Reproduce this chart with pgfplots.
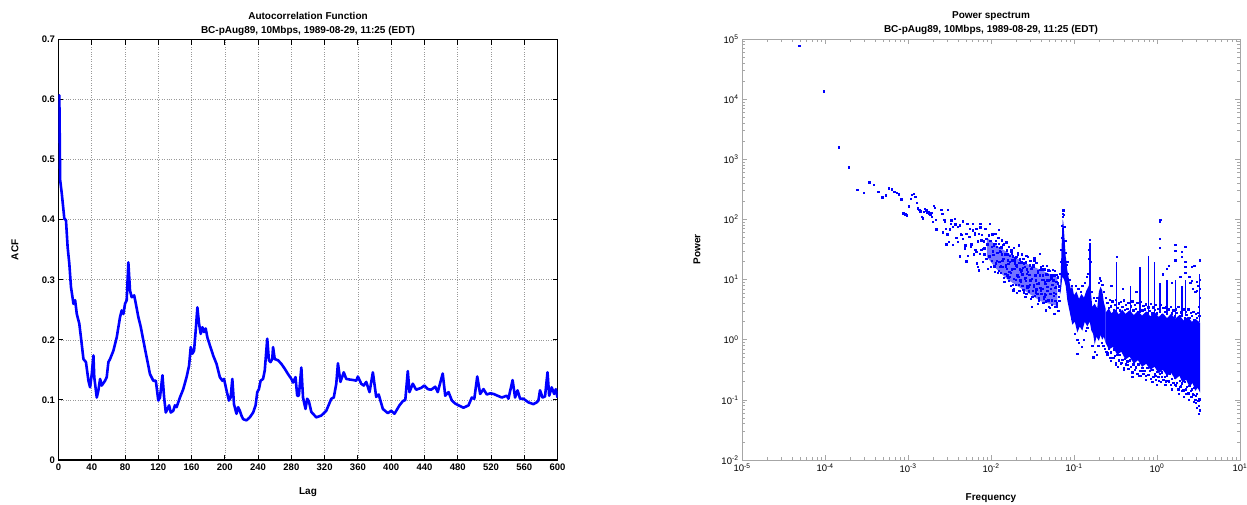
\documentclass[border=0pt]{standalone}
\usepackage{pgfplots}
\pgfplotsset{compat=1.18}
\usepackage{fontspec}
\setmainfont{Liberation Sans}
\pgfplotsset{
  lg/.style={/pgfplots/table/x expr={10^(\thisrow{lf})}, /pgfplots/table/y expr={10^(\thisrow{lp})}},
  dots/.style={only marks, mark=square*, mark size=0.68pt, color=blue, mark options={draw=none, fill=blue}, forget plot},
  spk/.style={draw=blue, line width=1.4pt, forget plot},
}
\begin{document}
\begin{tikzpicture}
% ---------------- Left: ACF ----------------
\begin{axis}[
  at={(58.5pt,44pt)}, anchor=south west, scale only axis,
  width=499pt, height=420.5pt,
  xmin=0, xmax=600, ymin=0, ymax=0.7,
  xtick={0,40,80,120,160,200,240,280,320,360,400,440,480,520,560,600},
  xticklabels={0,40,80,120,160,200,240,280,320,360,400,440,480,520,560,600},
  ytick={0,0.1,0.2,0.3,0.4,0.5,0.6,0.7},
  yticklabels={0,0.1,0.2,0.3,0.4,0.5,0.6,0.7},
  grid=major, major grid style={dotted, gray!80, line width=0.6pt},
  tick align=inside, major tick length=5pt,
  tick style={black, line width=0.9pt},
  axis line style={black, line width=1.1pt},
  ticklabel style={font=\bfseries\fontsize{9.5}{11}\selectfont},
  title={Autocorrelation Function\\BC-pAug89, 10Mbps, 1989-08-29, 11:25 (EDT)},
  title style={font=\bfseries\fontsize{10}{14}\selectfont, align=center, at={(0.5,1)}, anchor=south, yshift=-5.5pt},
  xlabel={Lag}, ylabel={ACF},
  xlabel style={font=\bfseries\fontsize{10}{12}\selectfont, at={(axis description cs:0.5,-0.0761)}, anchor=center},
  ylabel style={font=\bfseries\fontsize{10}{12}\selectfont, at={(axis description cs:-0.0872,0.5)}, anchor=center},
]
\addplot[color=blue, line width=2.6pt, line join=round] table {
x y
0 0.600
1 0.607
2 0.466
4 0.443
7 0.402
9 0.399
11 0.354
13 0.327
15 0.288
18 0.260
20 0.266
22 0.243
25 0.227
27 0.204
30 0.168
33 0.163
36 0.132
38 0.121
40 0.143
42 0.174
43 0.138
46 0.104
48 0.116
50 0.135
52 0.124
56 0.132
58 0.138
60 0.163
62 0.168
66 0.182
70 0.204
74 0.238
76 0.249
78 0.243
80 0.260
82 0.266
84 0.329
86 0.282
88 0.271
91 0.274
93 0.260
96 0.238
99 0.221
102 0.199
106 0.171
110 0.143
114 0.132
117 0.132
120 0.099
122 0.104
125 0.141
127 0.104
129 0.079
133 0.091
135 0.079
138 0.082
140 0.091
142 0.088
146 0.104
150 0.118
154 0.138
157 0.157
159 0.188
161 0.177
163 0.182
165 0.216
167 0.254
169 0.227
171 0.210
173 0.221
175 0.213
177 0.219
179 0.204
182 0.191
186 0.174
190 0.160
194 0.138
197 0.132
199 0.135
202 0.116
205 0.099
207 0.104
209 0.135
211 0.093
214 0.077
216 0.088
218 0.082
220 0.074
222 0.068
226 0.066
230 0.071
234 0.079
237 0.091
239 0.113
241 0.118
243 0.132
246 0.135
248 0.149
251 0.202
253 0.166
255 0.163
257 0.168
258 0.188
260 0.168
264 0.166
268 0.160
272 0.152
276 0.143
280 0.135
282 0.129
285 0.138
287 0.107
289 0.107
292 0.154
294 0.104
297 0.085
299 0.102
301 0.098
304 0.080
310 0.071
316 0.074
322 0.082
328 0.102
331 0.104
334 0.127
336 0.161
339 0.130
343 0.146
346 0.135
350 0.134
355 0.133
358 0.132
360 0.139
364 0.127
367 0.124
370 0.130
374 0.113
378 0.146
382 0.105
385 0.109
390 0.085
396 0.078
400 0.082
404 0.077
410 0.091
414 0.098
417 0.100
420 0.148
422 0.113
426 0.127
430 0.117
436 0.120
440 0.124
444 0.118
448 0.117
453 0.122
456 0.113
462 0.144
465 0.107
469 0.113
473 0.099
477 0.094
481 0.091
487 0.087
493 0.091
497 0.104
500 0.102
503.5 0.139
507 0.110
511 0.118
515 0.109
519 0.111
523 0.110
528 0.107
533 0.104
537 0.106
539 0.107
541 0.102
546 0.133
549 0.104
552 0.116
555 0.102
559 0.102
565 0.096
571 0.093
575 0.096
577 0.099
579 0.116
582 0.104
585 0.106
588 0.146
590 0.107
593 0.121
596 0.110
598 0.118
600 0.104
};
\end{axis}
% ---------------- Right: Power spectrum ----------------
\begin{axis}[
  at={(742pt,44pt)}, anchor=south west, scale only axis,
  width=498pt, height=421pt,
  xmode=log, ymode=log,
  xmin=1e-5, xmax=10, ymin=1e-2, ymax=1e5,
  xtick={1e-5,1e-4,1e-3,1e-2,1e-1,1,10},
  xticklabels={10\textsuperscript{-5},10\textsuperscript{-4},10\textsuperscript{-3},10\textsuperscript{-2},10\textsuperscript{-1},10\textsuperscript{0},10\textsuperscript{1}},
  ytick={1e-2,1e-1,1,10,100,1000,1e4,1e5},
  yticklabels={10\textsuperscript{-2},10\textsuperscript{-1},10\textsuperscript{0},10\textsuperscript{1},10\textsuperscript{2},10\textsuperscript{3},10\textsuperscript{4},10\textsuperscript{5}},
  minor xtick={2e-5,3e-5,4e-5,5e-5,6e-5,7e-5,8e-5,9e-5,2e-4,3e-4,4e-4,5e-4,6e-4,7e-4,8e-4,9e-4,2e-3,3e-3,4e-3,5e-3,6e-3,7e-3,8e-3,9e-3,0.02,0.03,0.04,0.05,0.06,0.07,0.08,0.09,0.2,0.3,0.4,0.5,0.6,0.7,0.8,0.9,2,3,4,5,6,7,8,9},
  minor ytick={0.02,0.03,0.04,0.05,0.06,0.07,0.08,0.09,0.2,0.3,0.4,0.5,0.6,0.7,0.8,0.9,2,3,4,5,6,7,8,9,20,30,40,50,60,70,80,90,200,300,400,500,600,700,800,900,2000,3000,4000,5000,6000,7000,8000,9000,20000,30000,40000,50000,60000,70000,80000,90000},
  tick align=inside, major tick length=5pt, minor tick length=3pt,
  tick style={gray!70, line width=0.7pt},
  axis line style={gray!70, line width=1pt},
  ticklabel style={font=\fontsize{9.5}{11}\selectfont},
  title={Power spectrum\\BC-pAug89, 10Mbps, 1989-08-29, 11:25 (EDT)},
  title style={font=\bfseries\fontsize{10}{14}\selectfont, align=center, at={(0.5,1)}, anchor=south, yshift=-5.5pt},
  xlabel={Frequency}, ylabel={Power},
  xlabel style={font=\bfseries\fontsize{10}{12}\selectfont, at={(axis description cs:0.5,-0.0903)}, anchor=center},
  ylabel style={font=\bfseries\fontsize{10}{12}\selectfont, at={(axis description cs:-0.0904,0.5)}, anchor=center},
]
% core of the scattered cloud before the main peak
\addplot[fill=blue!55, draw=none, forget plot] table[lg] {
lf lp
-2.05 1.70
-1.95 1.58
-1.80 1.45
-1.60 1.28
-1.40 1.16
-1.20 1.04
-1.20 0.56
-1.40 0.64
-1.60 0.82
-1.80 1.00
-1.95 1.20
-2.05 1.38
} -- cycle;
% region between the peaks
\addplot[fill=blue, draw=none, forget plot] table[lg] {
lf lp
-1.10 1.40
-1.08 1.15
-1.06 1.00
-1.04 0.85
-1.02 0.88
-1.00 0.74
-0.97 0.80
-0.94 0.68
-0.91 0.76
-0.88 0.70
-0.85 0.82
-0.82 0.90
-0.81 1.20
-0.80 0.85
-0.78 0.55
-0.75 0.60
-0.72 0.52
-0.70 0.80
-0.68 0.88
-0.66 0.82
-0.64 0.62
-0.62 0.52
-0.62 -0.05
-0.64 0.05
-0.66 0.00
-0.68 0.08
-0.70 -0.02
-0.73 0.05
-0.75 -0.08
-0.77 0.10
-0.79 0.15
-0.81 0.30
-0.84 0.22
-0.87 0.30
-0.90 0.15
-0.93 0.22
-0.96 0.12
-0.99 0.30
-1.02 0.25
-1.05 0.45
-1.08 0.65
-1.10 0.90
} -- cycle;
% main peak
\addplot[fill=blue, draw=none, forget plot] table[lg] {
lf lp
-1.170 0.75
-1.160 1.10
-1.150 1.50
-1.142 1.85
-1.135 2.00
-1.128 1.95
-1.120 1.80
-1.110 1.60
-1.100 1.40
-1.090 1.00
-1.100 0.90
-1.120 1.00
-1.140 1.05
-1.160 0.80
} -- cycle;
% dense band at high frequency
\addplot[fill=blue, draw=none, forget plot] table[lg] {
lf lp
-0.62 0.45
-0.58 0.52
-0.55 0.44
-0.50 0.50
-0.46 0.42
-0.42 0.50
-0.38 0.43
-0.33 0.49
-0.28 0.41
-0.23 0.48
-0.18 0.40
-0.13 0.47
-0.08 0.39
-0.03 0.46
0.02 0.38
0.07 0.44
0.12 0.36
0.17 0.43
0.22 0.35
0.27 0.41
0.32 0.32
0.37 0.38
0.42 0.30
0.47 0.34
0.52 0.28
0.52 -0.88
0.49 -0.80
0.46 -0.85
0.43 -0.72
0.39 -0.78
0.35 -0.66
0.31 -0.72
0.27 -0.60
0.22 -0.66
0.17 -0.55
0.12 -0.60
0.07 -0.50
0.02 -0.56
-0.03 -0.45
-0.08 -0.50
-0.13 -0.40
-0.18 -0.45
-0.23 -0.34
-0.28 -0.40
-0.33 -0.28
-0.38 -0.33
-0.43 -0.20
-0.48 -0.25
-0.53 -0.12
-0.58 -0.16
-0.62 -0.05
} -- cycle;
% spikes
\addplot[spk] table[lg] {
lf lp
-0.807 0.60
-0.807 1.60
};
\addplot[spk] table[lg] {
lf lp
-0.488 0.45
-0.488 1.30
};
\addplot[spk] table[lg] {
lf lp
-0.320 0.45
-0.320 0.90
};
\addplot[spk] table[lg] {
lf lp
-0.205 0.45
-0.205 1.21
};
\addplot[spk] table[lg] {
lf lp
-0.100 0.45
-0.100 1.40
};
\addplot[spk] table[lg] {
lf lp
-0.030 0.45
-0.030 1.30
};
\addplot[spk] table[lg] {
lf lp
0.035 0.45
0.035 0.95
};
\addplot[spk] table[lg] {
lf lp
0.120 0.45
0.120 1.00
};
\addplot[spk] table[lg] {
lf lp
0.220 0.40
0.220 1.00
};
\addplot[spk] table[lg] {
lf lp
0.300 0.40
0.300 0.90
};
\addplot[spk] table[lg] {
lf lp
0.340 0.40
0.340 1.00
};
\addplot[spk] table[lg] {
lf lp
0.515 0.30
0.515 1.10
};
% scattered points
\addplot[dots] table[lg] {
lf lp
-4.313 4.884
-4.012 4.135
-3.836 3.203
-3.711 2.870
-3.614 2.493
-3.535 2.443
-3.468 2.621
-3.410 2.582
-3.359 2.465
-3.313 2.371
-3.272 2.404
-3.234 2.521
-3.199 2.504
-3.167 2.460
-3.137 2.449
-3.109 2.421
-3.083 2.338
-3.058 2.105
-3.034 2.088
-3.012 2.072
-2.991 2.221
-2.971 2.349
-2.952 2.415
-2.933 2.426
-2.915 2.377
-2.898 2.277
-2.882 2.188
-2.866 2.160
-2.851 2.138
-2.836 2.044
-2.822 2.022
-2.808 2.127
-2.795 2.183
-2.782 2.155
-2.769 2.110
-2.757 2.127
-2.745 2.099
-2.733 2.088
-2.722 2.110
-2.711 2.044
-2.700 1.966
-2.690 2.232
-2.680 2.194
-2.670 1.999
-2.660 1.839
-2.586 2.100
-2.566 2.000
-2.546 1.850
-2.526 1.755
-2.506 1.628
-2.486 1.933
-2.462 1.877
-2.433 1.922
-2.405 1.628
-2.381 1.905
-2.365 1.767
-2.341 1.683
-2.313 1.573
-2.301 1.306
-2.285 1.933
-2.261 1.711
-2.245 1.545
-2.221 1.822
-2.200 1.778
-2.180 1.462
-2.164 1.212
-2.152 1.156
-2.132 1.933
-2.120 1.656
-2.100 1.517
-2.080 1.423
-2.060 1.683
-2.040 1.589
-2.012 1.933
-1.992 1.545
-1.972 1.767
-1.951 1.600
-1.931 1.545
-1.911 1.833
-1.899 1.212
-1.883 1.462
-1.871 1.656
-1.851 1.350
-1.831 1.101
-1.811 1.184
-1.791 1.267
-1.771 1.046
-1.751 1.434
-1.731 0.824
-1.711 1.323
-1.690 1.212
-1.670 1.573
-1.650 0.990
-1.630 1.156
-1.610 1.350
-1.590 0.713
-1.570 1.101
-1.550 0.879
-1.530 0.990
-1.510 0.546
-1.490 1.212
-1.478 1.323
-1.458 0.990
-1.441 0.602
-1.417 1.434
-1.401 0.824
-1.377 1.073
-1.357 0.713
-1.341 0.491
-1.329 0.990
-1.309 1.156
-1.289 0.768
-1.269 0.657
-1.249 0.990
-1.237 0.435
-1.221 0.879
-1.209 0.546
-1.188 0.824
-2.60 2.16
-2.58 1.79
-2.56 1.96
-2.54 1.59
-2.52 2.16
-2.50 1.84
-2.48 1.99
-2.46 1.58
-2.44 2.01
-2.42 1.70
-2.40 1.88
-2.38 1.39
-2.36 1.75
-2.34 1.97
-2.32 1.52
-2.30 1.76
-2.28 1.40
-2.26 1.85
-2.24 1.59
-2.22 1.93
-2.21 1.42
-2.20 1.75
-2.19 1.50
-2.18 1.85
-2.17 1.27
-2.16 1.64
-2.15 1.76
-2.14 1.43
-2.13 1.87
-2.12 1.50
-2.11 1.75
-2.10 1.30
-2.09 1.64
-2.08 1.52
-2.07 1.85
-2.06 1.35
-2.05 1.59
-2.04 1.18
-2.03 1.74
-2.02 1.39
-2.01 1.65
-2.00 1.21
-1.99 1.76
-1.98 1.47
-1.97 1.57
-1.96 1.22
-1.95 1.76
-1.94 1.27
-1.93 1.45
-1.92 1.11
-1.91 1.60
-1.90 1.30
-1.89 1.53
-1.88 1.11
-1.87 1.42
-1.86 1.21
-1.85 1.59
-1.84 0.96
-1.83 1.42
-1.82 1.25
-1.81 1.49
-1.800 1.32
-1.793 1.04
-1.786 1.55
-1.779 1.13
-1.772 1.40
-1.765 0.90
-1.758 1.46
-1.751 1.17
-1.744 1.32
-1.737 0.91
-1.730 1.53
-1.723 1.01
-1.716 1.18
-1.709 1.36
-1.702 0.91
-1.695 1.24
-1.688 0.78
-1.681 1.41
-1.674 1.05
-1.667 1.28
-1.660 0.82
-1.653 1.34
-1.646 0.97
-1.639 1.14
-1.632 1.42
-1.625 0.90
-1.618 1.20
-1.611 0.83
-1.604 1.27
-1.597 1.02
-1.590 1.03
-1.583 1.29
-1.576 0.77
-1.569 1.17
-1.562 0.89
-1.555 1.38
-1.548 0.81
-1.541 1.08
-1.534 0.92
-1.527 1.31
-1.520 0.68
-1.513 1.20
-1.506 1.01
-1.499 0.82
-1.492 1.25
-1.485 0.92
-1.478 1.36
-1.471 0.73
-1.464 1.07
-1.457 0.84
-1.450 1.28
-1.443 0.76
-1.436 1.11
-1.429 0.94
-1.422 0.65
-1.415 1.16
-1.408 0.86
-1.401 1.21
-1.394 0.77
-1.387 1.00
-1.380 1.08
-1.373 0.62
-1.366 1.00
-1.359 1.17
-1.352 0.76
-1.345 0.93
-1.338 0.64
-1.331 1.23
-1.324 0.81
-1.317 1.08
-1.310 0.66
-1.303 0.99
-1.296 0.53
-1.289 1.15
-1.282 0.85
-1.275 1.02
-1.268 0.67
-1.261 0.91
-1.254 1.16
-1.247 0.73
-1.240 1.07
-1.233 0.55
-1.226 0.87
-1.219 0.76
-1.212 1.08
-1.205 0.61
-1.198 0.94
-1.191 0.48
-1.184 0.89
-1.177 0.65
-1.995 1.31
-1.985 1.75
-1.975 1.41
-1.965 1.60
-1.955 1.13
-1.945 1.65
-1.935 1.31
-1.925 1.45
-1.915 1.70
-1.905 1.15
-1.895 1.47
-1.885 1.22
-1.875 1.54
-1.865 1.31
-1.855 1.58
-1.845 1.03
-1.835 1.43
-1.825 1.22
-1.815 1.62
-1.805 1.07
-1.795 1.42
-1.785 0.98
-1.775 1.30
-1.765 1.11
-1.755 1.49
-1.745 1.18
-1.735 1.39
-1.725 0.85
-1.715 1.27
-1.705 1.00
-1.695 1.38
-1.685 1.07
-1.675 1.44
-1.665 0.91
-1.655 1.17
-1.645 0.98
-1.635 1.29
-1.625 1.09
-1.615 1.35
-1.605 0.79
-1.595 1.21
-1.585 0.98
-1.575 1.40
-1.565 0.87
-1.555 1.13
-1.545 0.80
-1.535 1.24
-1.525 0.99
-1.515 1.18
-1.505 0.71
-1.495 1.25
-1.485 0.89
-1.475 1.07
-1.465 0.79
-1.455 1.28
-1.445 0.93
-1.435 1.14
-1.425 0.69
-1.415 1.07
-1.405 0.81
-1.395 1.17
-1.385 0.85
-1.375 1.23
-1.365 0.69
-1.355 0.96
-1.345 0.75
-1.335 1.09
-1.325 0.88
-1.315 1.15
-1.305 0.55
-1.295 1.00
-1.285 0.76
-1.275 1.07
-1.265 0.58
-1.255 0.92
-1.245 0.78
-1.235 1.15
-1.225 0.65
-1.215 0.96
-1.205 0.58
-1.195 1.04
-1.185 0.71
-1.175 0.89
-1.130 2.155
-1.135 2.10
-1.140 2.05
-1.125 2.08
-1.145 1.90
-1.120 1.88
-1.150 1.70
-1.105 1.65
-1.155 1.50
-1.100 1.45
-1.160 1.30
-1.095 1.25
-1.165 1.10
-1.090 1.10
-1.170 0.90
-1.085 0.95
-1.080 1.30
-1.075 1.10
-1.070 0.85
-1.060 1.00
-1.060 0.60
-1.050 0.75
-1.040 0.50
-1.030 0.90
-1.020 0.35
-1.000 0.65
-0.990 0.10
-0.980 0.90
-0.960 0.00
-0.960 -0.23
-0.950 0.85
-0.940 -0.05
-0.920 0.80
-0.910 -0.12
-0.900 0.90
-0.880 0.00
-0.870 0.95
-0.860 0.15
-0.850 1.05
-0.840 0.20
-0.830 1.10
-0.820 1.35
-0.815 1.50
-0.810 1.60
-0.808 1.667
-0.800 1.30
-0.790 0.80
-0.780 -0.10
-0.770 -0.29
-0.760 0.70
-0.750 -0.20
-0.740 0.65
-0.730 -0.25
-0.720 0.70
-0.710 -0.10
-0.700 0.95
-0.690 1.02
-0.680 0.98
-0.670 -0.05
-0.660 0.92
-0.650 -0.10
-0.640 0.80
-0.630 -0.15
-0.620 0.70
-0.610 -0.20
-0.600 0.62
-0.585 0.53
-0.570 0.67
-0.555 0.56
-0.540 0.64
-0.525 0.49
-0.510 0.58
-0.495 0.67
-0.480 0.53
-0.465 0.61
-0.450 0.49
-0.435 0.63
-0.420 0.55
-0.405 0.66
-0.390 0.50
-0.375 0.58
-0.360 0.52
-0.345 0.62
-0.330 0.46
-0.315 0.56
-0.300 0.64
-0.285 0.49
-0.270 0.58
-0.255 0.52
-0.240 0.62
-0.225 0.46
-0.210 0.55
-0.195 0.63
-0.180 0.49
-0.165 0.57
-0.150 0.51
-0.135 0.59
-0.120 0.44
-0.105 0.54
-0.090 0.48
-0.075 0.60
-0.060 0.44
-0.045 0.54
-0.030 0.50
-0.015 0.58
0.000 0.44
0.015 0.52
0.030 0.47
0.045 0.58
0.060 0.41
0.075 0.53
0.090 0.47
0.105 0.54
0.120 0.43
0.135 0.51
0.150 0.38
0.165 0.55
0.180 0.44
0.195 0.49
0.210 0.39
0.225 0.51
0.240 0.45
0.255 0.55
0.270 0.39
0.285 0.46
0.300 0.41
0.315 0.51
0.330 0.36
0.345 0.47
0.360 0.42
0.375 0.51
0.390 0.37
0.405 0.45
0.420 0.40
0.435 0.47
0.450 0.33
0.465 0.43
0.480 0.37
0.495 0.45
0.510 0.40
-0.600 -0.22
-0.585 -0.14
-0.570 -0.30
-0.555 -0.21
-0.540 -0.30
-0.525 -0.16
-0.510 -0.27
-0.495 -0.38
-0.480 -0.25
-0.465 -0.34
-0.450 -0.25
-0.435 -0.40
-0.420 -0.33
-0.405 -0.47
-0.390 -0.32
-0.375 -0.41
-0.360 -0.36
-0.345 -0.48
-0.330 -0.34
-0.315 -0.45
-0.300 -0.54
-0.285 -0.41
-0.270 -0.50
-0.255 -0.45
-0.240 -0.56
-0.225 -0.41
-0.210 -0.51
-0.195 -0.60
-0.180 -0.46
-0.165 -0.56
-0.150 -0.51
-0.135 -0.60
-0.120 -0.46
-0.105 -0.58
-0.090 -0.52
-0.075 -0.65
-0.060 -0.50
-0.045 -0.61
-0.030 -0.57
-0.015 -0.66
0.000 -0.53
0.015 -0.62
0.030 -0.57
0.045 -0.70
0.060 -0.54
0.075 -0.66
0.090 -0.61
0.105 -0.69
0.120 -0.59
0.135 -0.68
0.150 -0.57
0.165 -0.75
0.180 -0.65
0.195 -0.71
0.210 -0.63
0.225 -0.76
0.240 -0.71
0.255 -0.82
0.270 -0.68
0.285 -0.76
0.300 -0.72
0.315 -0.84
0.330 -0.70
0.345 -0.82
0.360 -0.78
0.375 -0.89
0.390 -0.76
0.405 -0.85
0.420 -0.82
0.435 -0.91
0.450 -0.80
0.465 -0.93
0.480 -0.90
0.495 -1.01
0.510 -0.98
0.515 0.70
0.515 0.85
0.515 1.00
0.505 0.55
0.49 0.90
0.46 0.80
0.43 0.85
0.40 0.95
-0.60 -0.25
-0.56 -0.35
-0.52 -0.30
-0.47 -0.45
-0.43 -0.38
-0.40 -0.50
-0.35 -0.42
-0.30 -0.55
-0.26 -0.47
-0.22 -0.60
-0.18 -0.52
-0.14 -0.66
-0.10 -0.58
-0.06 -0.70
-0.02 -0.60
0.02 -0.68
0.06 -0.62
0.10 -0.75
0.14 -0.70
0.18 -0.82
0.22 -0.75
0.26 -0.90
0.30 -0.85
0.32 -0.95
0.35 -0.90
0.38 -1.00
0.41 -0.95
0.44 -1.03
0.46 -1.00
0.48 -1.13
0.50 -1.10
0.505 -1.23
0.51 -1.00
0.515 -1.17
0.47 -1.05
0.43 -0.90
0.28 -0.78
0.00 -0.75
-0.30 -0.62
-0.50 -0.42
-0.488 1.38
0.035 1.53
0.035 1.68
0.035 1.96
0.040 2.00
0.120 1.18
0.220 1.32
0.220 1.48
0.220 1.58
0.300 1.38
0.300 1.46
0.340 1.11
0.340 1.21
0.340 1.30
0.340 1.545
0.420 0.98
0.420 1.21
0.480 0.82
0.480 0.96
0.515 1.32
0.069 1.09
0.140 1.23
0.450 1.23
0.390 1.05
0.280 1.05
0.180 0.95
-0.41 0.85
-0.25 0.80
-0.55 0.90
};
\end{axis}
\pgfresetboundingbox
\path[use as bounding box] (0,0) rectangle (1247pt,504pt);
\end{tikzpicture}
\end{document}
